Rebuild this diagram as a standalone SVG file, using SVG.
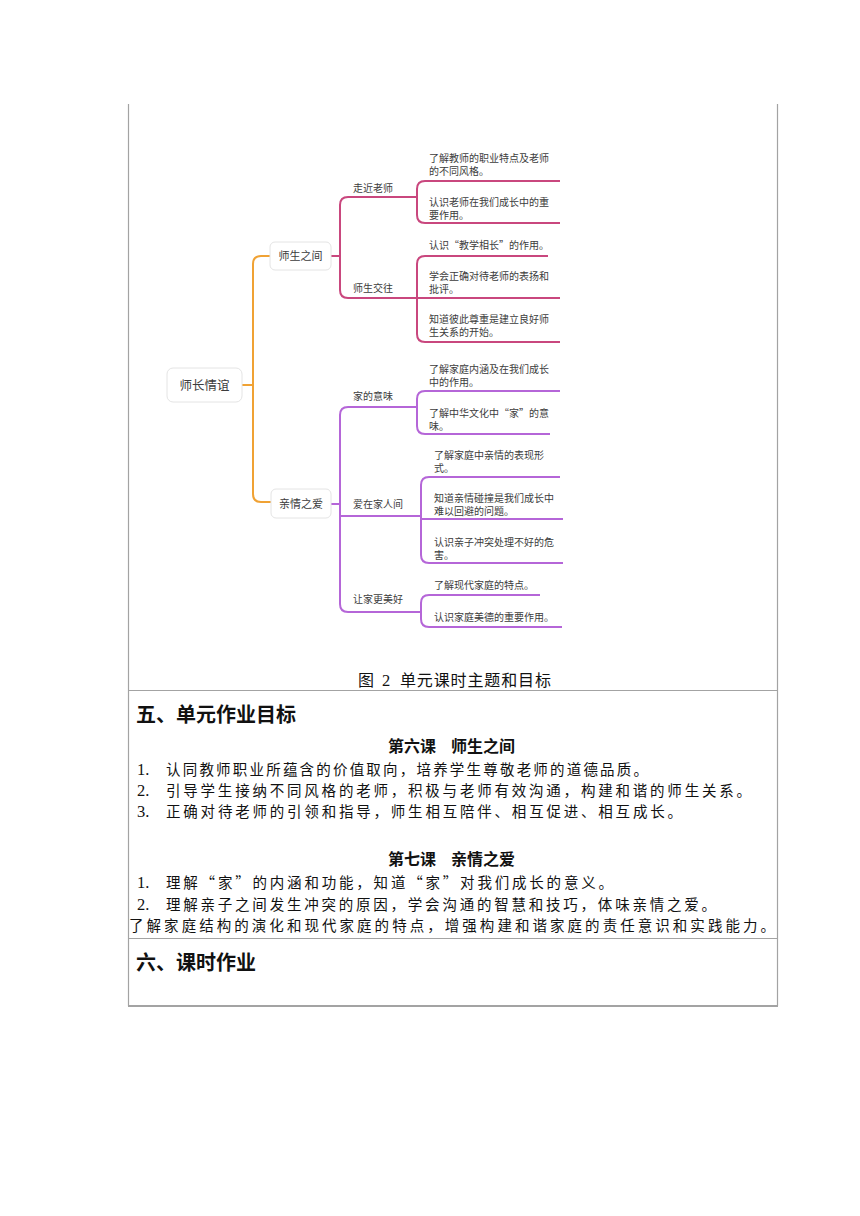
<svg xmlns="http://www.w3.org/2000/svg" width="860" height="1216" viewBox="0 0 860 1216">
<style>
.tbl{stroke:#a3a3a3;stroke-width:1.2;fill:none}
.mm{font-family:"Noto Sans CJK SC","Noto Sans",sans-serif;fill:#3c3c3c}
.leaf{font-size:10px}
.lbl{font-size:10px}
.box{fill:#fff;stroke:#e4e4e4;stroke-width:1}
.or{stroke:#f0a234;stroke-width:2;fill:none}
.pk{stroke:#c9477e;stroke-width:2;fill:none}
.pu{stroke:#b566d8;stroke-width:2;fill:none}
.cjk{font-family:"Noto Sans CJK SC",sans-serif;fill:#111}
.num{font-family:"Liberation Serif",serif;fill:#111;font-size:16.5px}
.body{font-size:14.5px}
.hd{font-size:20px;font-weight:bold}
.sub{font-size:16px;font-weight:bold}
</style>
<rect width="860" height="1216" fill="#fff"/>
<g id="table">
<line class="tbl" x1="128.5" y1="104" x2="128.5" y2="1006"/>
<line class="tbl" x1="777.5" y1="104" x2="777.5" y2="1006"/>
<line class="tbl" x1="128" y1="690.5" x2="778" y2="690.5"/>
<line class="tbl" x1="128" y1="938.5" x2="778" y2="938.5"/>
<line x1="128" y1="1006" x2="778" y2="1006" stroke="#a3a3a3" stroke-width="2"/>
</g>
<g id="connectors">
<path class="or" d="M242 385 H253"/>
<path class="or" d="M270 256 H261 Q253 256 253 264 V494 Q253 502 261 502 H271"/>
<path class="pk" d="M331 256 H340"/>
<path class="pk" d="M417 197 H348 Q340 197 340 205 V290 Q340 298 348 298 H560"/>
<path class="pk" d="M560 181 H425 Q417 181 417 189 V215 Q417 223 425 223 H560"/>
<path class="pk" d="M548 256 H425 Q417 256 417 264 V334 Q417 342 425 342 H560"/>
<path class="pu" d="M331 504 H340"/>
<path class="pu" d="M417 407 H348 Q340 407 340 415 V604 Q340 612 348 612 H421"/>
<path class="pu" d="M340 516 H421 M421 519 H563"/>
<path class="pu" d="M560 391 H425 Q417 391 417 399 V426 Q417 434 425 434 H550"/>
<path class="pu" d="M560 477 H429 Q421 477 421 485 V555 Q421 563 429 563 H563"/>
<path class="pu" d="M540 595 H429 Q421 595 421 603 V619 Q421 627 429 627 H562"/>
</g>
<g id="root"><rect class="box" x="167" y="368" width="75" height="34" rx="6"/><text class="mm" x="204.5" y="390" font-size="12.5" text-anchor="middle">师长情谊</text></g>
<g id="n-shisheng"><rect class="box" x="270" y="242" width="61" height="28" rx="5"/><text class="mm" x="300.5" y="260" font-size="11" text-anchor="middle">师生之间</text></g>
<g id="n-qinqing"><rect class="box" x="271" y="489" width="60" height="29" rx="5"/><text class="mm" x="301" y="508" font-size="11" text-anchor="middle">亲情之爱</text></g>
<g id="n-zoujin"><text class="mm lbl" x="353" y="192">走近老师</text></g>
<g id="n-jiaowang"><text class="mm lbl" x="353" y="292">师生交往</text></g>
<g id="n-jiade"><text class="mm lbl" x="353" y="400">家的意味</text></g>
<g id="n-aizai"><text class="mm lbl" x="353" y="508">爱在家人间</text></g>
<g id="n-rangjia"><text class="mm lbl" x="353" y="603">让家更美好</text></g>
<g id="leaf1"><text class="mm leaf" x="429" y="162">了解教师的职业特点及老师</text><text class="mm leaf" x="429" y="175">的不同风格。</text></g>
<g id="leaf2"><text class="mm leaf" x="429" y="206">认识老师在我们成长中的重</text><text class="mm leaf" x="429" y="219">要作用。</text></g>
<g id="leaf3"><text class="mm leaf" x="429" y="249">认识“教学相长”的作用。</text></g>
<g id="leaf4"><text class="mm leaf" x="429" y="280">学会正确对待老师的表扬和</text><text class="mm leaf" x="429" y="293">批评。</text></g>
<g id="leaf5"><text class="mm leaf" x="429" y="323">知道彼此尊重是建立良好师</text><text class="mm leaf" x="429" y="336">生关系的开始。</text></g>
<g id="leaf6"><text class="mm leaf" x="429" y="373">了解家庭内涵及在我们成长</text><text class="mm leaf" x="429" y="386">中的作用。</text></g>
<g id="leaf7"><text class="mm leaf" x="429" y="417">了解中华文化中“家”的意</text><text class="mm leaf" x="429" y="430">味。</text></g>
<g id="leaf8"><text class="mm leaf" x="434" y="459">了解家庭中亲情的表现形</text><text class="mm leaf" x="434" y="472">式。</text></g>
<g id="leaf9"><text class="mm leaf" x="434" y="502">知道亲情碰撞是我们成长中</text><text class="mm leaf" x="434" y="515">难以回避的问题。</text></g>
<g id="leaf10"><text class="mm leaf" x="434" y="546">认识亲子冲突处理不好的危</text><text class="mm leaf" x="434" y="559">害。</text></g>
<g id="leaf11"><text class="mm leaf" x="434" y="589">了解现代家庭的特点。</text></g>
<g id="leaf12"><text class="mm leaf" x="434" y="621">认识家庭美德的重要作用。</text></g>
<g id="text">
<text class="cjk" x="358" y="686" font-size="16" fill="#333">图</text>
<text class="num" x="382" y="686" fill="#333">2</text>
<text class="cjk" x="400" y="686" font-size="16" fill="#333" textLength="151">单元课时主题和目标</text>
<text class="cjk hd" x="136" y="722">五、单元作业目标</text>
<text class="cjk sub" x="388" y="752">第六课</text><text class="cjk sub" x="451" y="752">师生之间</text>
<text class="num" x="137" y="775">1.</text><text class="cjk body" x="166" y="775" textLength="482">认同教师职业所蕴含的价值取向，培养学生尊敬老师的道德品质。</text>
<text class="num" x="137" y="796">2.</text><text class="cjk body" x="166" y="796" textLength="585">引导学生接纳不同风格的老师，积极与老师有效沟通，构建和谐的师生关系。</text>
<text class="num" x="137" y="817">3.</text><text class="cjk body" x="166" y="817" textLength="516">正确对待老师的引领和指导，师生相互陪伴、相互促进、相互成长。</text>
<text class="cjk sub" x="388" y="865">第七课</text><text class="cjk sub" x="451" y="865">亲情之爱</text>
<text class="num" x="137" y="888">1.</text><text class="cjk body" x="166" y="888" textLength="447">理解“家”的内涵和功能，知道“家”对我们成长的意义。</text>
<text class="num" x="137" y="910">2.</text><text class="cjk body" x="166" y="910" textLength="550">理解亲子之间发生冲突的原因，学会沟通的智慧和技巧，体味亲情之爱。</text>
<text class="cjk body" x="129" y="931" textLength="646">了解家庭结构的演化和现代家庭的特点，增强构建和谐家庭的责任意识和实践能力。</text>
<text class="cjk hd" x="136" y="970">六、课时作业</text>
</g>
</svg>
